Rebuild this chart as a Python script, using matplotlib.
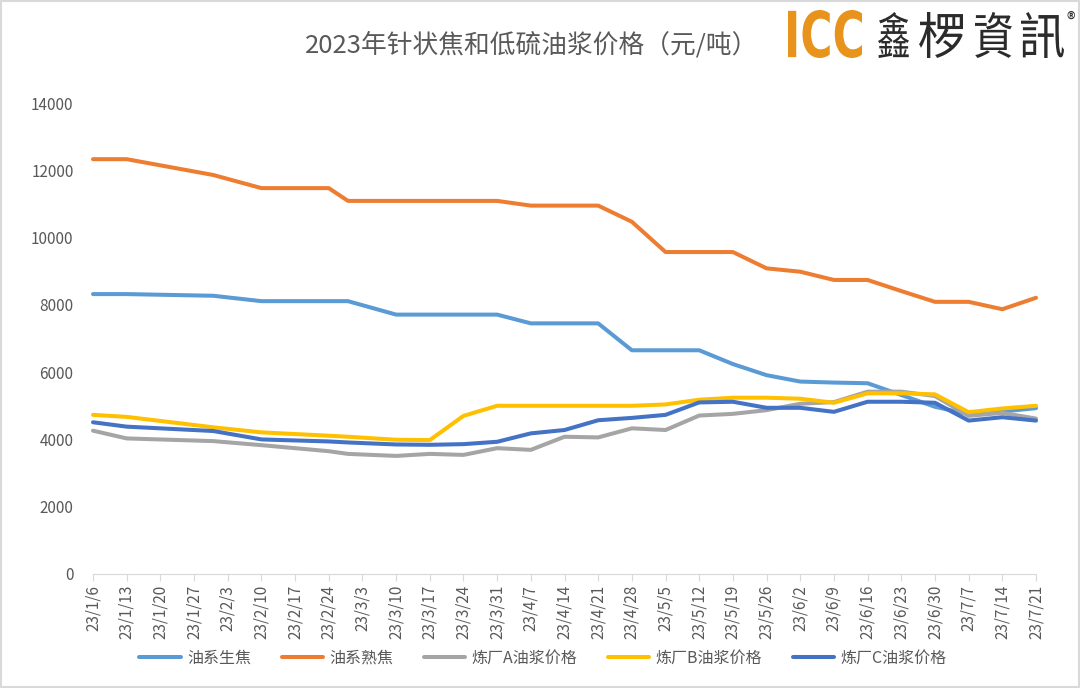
import datetime as dt
import matplotlib
matplotlib.use('Agg')
import matplotlib.pyplot as plt
from matplotlib.font_manager import FontProperties
from matplotlib.textpath import TextPath
from matplotlib.patches import PathPatch, Rectangle
from matplotlib.transforms import Affine2D

plt.rcParams['font.family'] = ['Noto Sans CJK SC', 'DejaVu Sans']

# 数据
dates = ['23/1/6', '23/1/13', '23/1/31', '23/2/10', '23/2/24', '23/2/28', '23/3/10',
         '23/3/17', '23/3/24', '23/3/31', '23/4/7', '23/4/14', '23/4/21', '23/4/28',
         '23/5/5', '23/5/12', '23/5/19', '23/5/26', '23/6/2', '23/6/9', '23/6/16',
         '23/6/23', '23/6/30', '23/7/7', '23/7/14', '23/7/21']
tick_labels = ['23/1/6', '23/1/13', '23/1/20', '23/1/27', '23/2/3', '23/2/10', '23/2/17',
               '23/2/24', '23/3/3', '23/3/10', '23/3/17', '23/3/24', '23/3/31', '23/4/7',
               '23/4/14', '23/4/21', '23/4/28', '23/5/5', '23/5/12', '23/5/19', '23/5/26',
               '23/6/2', '23/6/9', '23/6/16', '23/6/23', '23/6/30', '23/7/7', '23/7/14',
               '23/7/21']
green_coke = [8320, 8320, 8270, 8110, 8110, 8110, 7710, 7710, 7710, 7710, 7450, 7450, 7450,
              6650, 6650, 6650, 6240, 5910, 5720, 5690, 5670, 5320, 4970, 4750, 4830, 4930]
calcined_coke = [12330, 12330, 11860, 11470, 11470, 11090, 11090, 11090, 11090, 11090, 10950,
                 10950, 10950, 10470, 9570, 9570, 9570, 9085, 8985, 8740, 8740, 8410, 8090,
                 8090, 7870, 8210]
slurry_a = [4260, 4030, 3950, 3830, 3650, 3570, 3510, 3570, 3540, 3740, 3690, 4080, 4060,
            4330, 4280, 4710, 4760, 4870, 5060, 5110, 5420, 5420, 5290, 4700, 4790, 4620]
slurry_b = [4730, 4670, 4360, 4210, 4110, 4080, 3990, 3980, 4700, 5000, 5000, 5000, 5000,
            5000, 5040, 5180, 5240, 5240, 5210, 5090, 5370, 5370, 5340, 4810, 4920, 5000]
slurry_c = [4510, 4380, 4250, 4000, 3940, 3910, 3850, 3840, 3860, 3930, 4180, 4280, 4570,
            4640, 4730, 5100, 5120, 4940, 4940, 4820, 5120, 5120, 5090, 4560, 4660, 4560]

names = ['油系生焦', '油系熟焦', '炼厂A油浆价格', '炼厂B油浆价格', '炼厂C油浆价格']
colors = ['#5B9BD5', '#ED7D31', '#A5A5A5', '#FFC000', '#4472C4']


def to_date(s):
    y, m, d = s.split('/')
    return dt.date(2000 + int(y), int(m), int(d))


def boxed_text(fig, s, x0, y0, x1, y1, color, prop):
    # 把文字拉伸到像素框内（左上角原点）
    H = fig.bbox.height
    tp = TextPath((0, 0), s, size=100, prop=prop)
    bb = tp.get_extents()
    tr = (Affine2D().translate(-bb.x0, -bb.y0)
          .scale((x1 - x0) / bb.width, (y1 - y0) / bb.height)
          .translate(x0, H - y1))
    fig.add_artist(PathPatch(tp, transform=tr, facecolor=color, edgecolor='none'))


fig = plt.figure(figsize=(10.8, 6.88), dpi=100)
ax = fig.add_axes([93 / 1080, 1 - 574 / 688, (1036 - 93) / 1080, (574 - 103) / 688])

x = [to_date(s) for s in dates]
series = [green_coke, calcined_coke, slurry_a, slurry_b, slurry_c]
for vals, name, c in zip(series, names, colors):
    ax.plot(x, vals, color=c, lw=2.9, label=name, clip_on=False,
            solid_joinstyle='round', solid_capstyle='round')

ticks = [to_date(s) for s in tick_labels]
ax.set_xlim(ticks[0], ticks[-1])
ax.set_xticks(ticks)
ax.set_xticklabels(tick_labels, rotation=90, fontsize=11, color='#595959')
ax.set_ylim(0, 14000)
ax.set_yticks(range(0, 14001, 2000))
ax.set_yticklabels([str(v) for v in range(0, 14001, 2000)], fontsize=11, color='#595959')
ax.tick_params(axis='y', length=0, pad=14)
ax.tick_params(axis='x', length=5, color='#D9D9D9', direction='out', pad=3)
for sp in ['left', 'right', 'top']:
    ax.spines[sp].set_visible(False)
ax.spines['bottom'].set_color('#D9D9D9')

# 标题
fig.text(532 / 1080, 1 - 45 / 688, '2023年针状焦和低硫油浆价格（元/吨）',
         ha='center', va='center', fontsize=18.5, color='#595959')

# logo
boxed_text(fig, 'ICC', 788, 10, 862, 58, '#E8931C',
           FontProperties(family='DejaVu Sans', weight='bold'))
logo_prop = FontProperties(family='Noto Sans CJK TC')
for ch, (a, b) in zip('鑫椤資訊', [(878, 909), (919, 963), (975, 1012), (1021, 1064)]):
    boxed_text(fig, ch, a, 12, b, 58, '#2B2B2B', logo_prop)
fig.text(1071 / 1080, 1 - 20 / 688, '®', ha='center', va='center', fontsize=13, color='#333333')

# 图例
fig.legend(loc='center', bbox_to_anchor=(543 / 1080, 1 - 658 / 688), ncol=5, frameon=False,
           fontsize=11.5, handlelength=2.6, columnspacing=1.9, handletextpad=0.4,
           labelcolor='#595959')

# 外框
fig.add_artist(Rectangle((0.001, 0.001), 0.998, 0.997, transform=fig.transFigure,
                         fill=False, edgecolor='#D9D9D9', lw=1.5))

plt.savefig('out.png', dpi=100)
